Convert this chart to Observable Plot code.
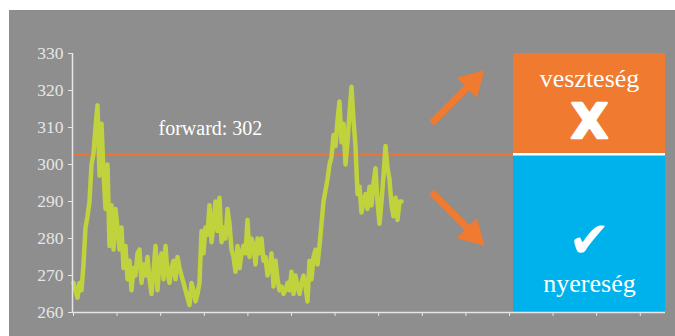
<!DOCTYPE html>
<html>
<head>
<meta charset="utf-8">
<script src="https://cdn.jsdelivr.net/npm/d3@7"></script>
<script src="https://cdn.jsdelivr.net/npm/@observablehq/plot@0.6"></script>
<style>
  html, body { margin: 0; padding: 0; background: #ffffff; overflow: hidden; }
  #chart svg { display: block; margin: 10px 0 0 9px; background: #8e8e8e; }
</style>
</head>
<body>
<div id="chart"></div>
<script>
// ---- data ----
const yTicks = [260, 270, 280, 290, 300, 310, 320, 330];
const forwardValue = 302;
const forwardLabel = "forward: 302";
const lossLabel = "veszteség";
const gainLabel = "nyereség";
const lossMark = "X";
const gainMark = "✔";
const series = [
  268, 266, 264, 268, 266, 273, 283, 286, 290, 300,
  303, 310, 316, 297, 311, 298, 288, 300, 278, 289,
  277, 288, 283, 277, 283, 272, 278, 269, 274, 266,
  272, 270, 276, 277, 268, 273, 270, 275, 269, 265,
  271, 278, 266, 274, 276, 269, 278, 271, 268, 272,
  274, 269, 275, 272, 270, 268, 266, 264, 262, 268,
  266, 263, 265, 268, 282, 276, 283, 281, 289, 279,
  284, 290, 282, 291, 279, 283, 280, 288, 284, 277,
  275, 271, 278, 272, 276, 278, 276, 285, 275, 280,
  278, 273, 280, 276, 280, 274, 275, 270, 272, 276,
  267, 274, 269, 266, 267, 265, 266, 268, 266, 271,
  265, 270, 267, 265, 268, 270, 267, 263, 274, 269,
  275, 277, 273, 278, 284, 290, 293, 296, 300, 302,
  308, 305, 312, 317, 306, 311, 300, 306, 314, 321,
  312, 305, 292, 294, 287, 290, 292, 288, 294, 289,
  295, 299, 290, 284, 290, 297, 305, 299, 296, 289,
  286, 291, 285, 290, 290
];

// ---- layout / style (annotation anchors in data units) ----
const xDomain = [-0.5, 296];
const xTicks = d3.range(14).map(k => k * 21.8);
const forwardLevel = 302.7;
const boxX1 = 220, boxX2 = 296, boxCx = 258;
const orange = "#f07a2f", blue = "#00b2ec", lineColor = "#c0d23c";
const axisColor = "#e6e6e6";
const serif = "Liberation Serif, Times New Roman, serif";

const shafts = [
  {x1: 179, y1: 311.2, x2: 197.5, y2: 321.2},
  {x1: 179, y1: 292.5, x2: 197.5, y2: 282.5}
];
const heads = [
  {x: 199.6, y: 322.3, rotate: 45},
  {x: 199.6, y: 281.2, rotate: 135}
];

const plot = Plot.plot({
  width: 666,
  height: 326,
  marginLeft: 63,
  marginRight: 10,
  marginTop: 43,
  marginBottom: 24,
  style: {background: "#8e8e8e", fontFamily: serif},
  x: {domain: xDomain, axis: null},
  y: {domain: [260, 330], axis: null},
  marks: [
    // boxes
    Plot.rect([0], {x1: boxX1, x2: boxX2, y1: 303, y2: 330, fill: orange}),
    Plot.rect([0], {x1: boxX1, x2: boxX2, y1: 260, y2: 302.5, fill: blue}),
    Plot.ruleY([forwardLevel + 0.1], {x1: boxX1, x2: boxX2, stroke: "#ffffff", strokeWidth: 2.5}),
    // forward rule
    Plot.ruleY([forwardLevel], {x1: xDomain[0], x2: boxX1, stroke: "#ee7433", strokeWidth: 2}),
    // series
    Plot.line(series, {x: (d, i) => i, y: d => d, stroke: lineColor, strokeWidth: 4.5, strokeLinejoin: "round"}),
    // axes
    Plot.axisY({ticks: yTicks, tickSize: 4, tickPadding: 5, color: axisColor, fontSize: 17.5, fontFamily: serif}),
    Plot.axisX({ticks: xTicks, tickSize: 4, tickFormat: () => "", color: axisColor}),
    Plot.ruleY([260], {stroke: axisColor, strokeWidth: 1.5}),
    Plot.ruleX([xDomain[0]], {stroke: axisColor, strokeWidth: 1.5}),
    // texts
    Plot.text([forwardLabel], {x: 42.5, y: 307.9, text: d => d, textAnchor: "start", lineAnchor: "bottom", fill: "#ffffff", fontSize: 20, fontFamily: serif}),
    Plot.text([lossLabel], {x: boxCx, y: 320.9, text: d => d, lineAnchor: "bottom", fill: "#ffffff", fontSize: 26, fontFamily: serif}),
    Plot.text([lossMark], {x: boxCx, y: 307.1, text: d => d, lineAnchor: "bottom", fill: "#ffffff", stroke: "#ffffff", strokeWidth: 2.5, fontSize: 48, fontWeight: "bold", fontFamily: "DejaVu Sans"}),
    Plot.text([gainMark], {x: boxCx, y: 279.2, text: d => d, lineAnchor: "middle", fill: "#ffffff", fontSize: 50, fontFamily: "DejaVu Sans"}),
    Plot.text([gainLabel], {x: boxCx, y: 265.5, text: d => d, lineAnchor: "bottom", fill: "#ffffff", fontSize: 26, fontFamily: serif}),
    // arrows
    Plot.link(shafts, {x1: "x1", y1: "y1", x2: "x2", y2: "y2", stroke: orange, strokeWidth: 7}),
    Plot.dot(heads, {x: "x", y: "y", rotate: "rotate", symbol: "triangle", r: 10.7, fill: orange, stroke: "none"})
  ]
});
document.getElementById("chart").appendChild(plot);
</script>
</body>
</html>
